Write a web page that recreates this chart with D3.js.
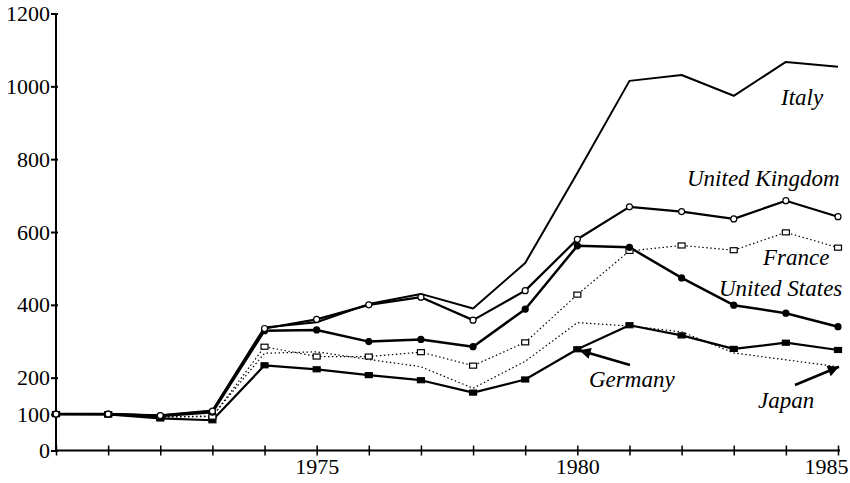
<!DOCTYPE html>
<html>
<head>
<meta charset="utf-8">
<script src="https://cdn.jsdelivr.net/npm/d3@7"></script>
<style>
  body { margin: 0; background: #fff; }
  text { font-family: "Liberation Serif", "Times New Roman", serif; fill: #000; }
</style>
</head>
<body>
<svg width="850" height="483"></svg>
<script>
// index values, 1970 = 100
const years = d3.range(1970, 1986)
const italy   = [100, 100, 97, 110, 338, 352, 402, 430, 390, 515, 762, 1015, 1031, 974, 1067, 1054]
const uk      = [100, 100, 96, 108, 335, 360, 400, 421, 358, 439, 580, 669, 656, 636, 686, 642]
const france  = [100, 99, 92, 93, 285, 258, 258, 270, 233, 297, 428, 548, 563, 550, 599, 557]
const usa     = [100, 100, 95, 105, 329, 331, 299, 305, 285, 388, 562, 558, 474, 399, 377, 340]
const germany = [100, 99, 88, 83, 234, 223, 207, 193, 159, 195, 278, 344, 316, 279, 296, 276]
const japan   = [100, 99, 92, 95, 267, 271, 250, 230, 171, 245, 351, 342, 326, 268, 249, 230]
const yTicks = [0, 100, 200, 400, 600, 800, 1000, 1200]
const xLabels = [1975, 1980, 1985]

var serif = '"Liberation Serif", "Times New Roman", serif'
var svg = d3.select('svg')

var x = d3.scaleLinear().domain([1970, 1985]).range([56, 838])
var y = d3.scaleLinear().domain([0, 1200]).range([450.5, 13.5])

// axes
var yAxis = d3.axisLeft(y).tickValues(yTicks).tickFormat(d3.format('d')).tickSize(5).tickPadding(1)
var gy = svg.append('g').attr('transform', 'translate(56,0)').call(yAxis).attr('font-family', null)
gy.select('.domain').attr('stroke', '#000').attr('stroke-width', 2).attr('d', 'M0,' + y(1200) + 'V' + y(0))
gy.selectAll('.tick line').attr('x1', 2).attr('stroke-width', 2)
gy.selectAll('.tick text').style('font-size', '22px').style('font-family', serif)

var xAxis = d3.axisBottom(x).tickValues(years)
    .tickFormat(d => xLabels.includes(d) ? d : '')
    .tickSize(5).tickPadding(3)
var gx = svg.append('g').attr('transform', 'translate(0,' + y(0) + ')').call(xAxis).attr('font-family', null)
gx.select('.domain').attr('stroke-width', 2).attr('d', 'M56,0H840')
gx.selectAll('.tick line').attr('y1', -5).attr('stroke-width', 1.5)
gx.selectAll('.tick text').style('font-size', '22px').style('font-family', serif)
// last label sits against the right edge, as in the print
gx.selectAll('.tick text').filter(d => d === 1985).attr('text-anchor', 'end').attr('x', 10)

var line = d3.line().x((d, i) => x(years[i])).y(d => y(d))

function drawSeries(data, width, dash) {
  svg.append('path')
    .datum(data)
    .attr('d', line)
    .attr('fill', 'none')
    .attr('stroke', '#000')
    .attr('stroke-width', width)
    .attr('stroke-linejoin', 'round')
    .attr('stroke-dasharray', dash)
}

drawSeries(japan, 1.2, '1.5,2.5')
drawSeries(france, 1.2, '1.5,2.5')
drawSeries(germany, 2.2, null)
drawSeries(usa, 2.5, null)
drawSeries(uk, 2.2, null)
drawSeries(italy, 2, null)

// markers
function circles(data, fill) {
  svg.append('g').selectAll('circle')
    .data(data)
    .enter()
    .append('circle')
    .attr('cx', (d, i) => x(years[i]))
    .attr('cy', d => y(d))
    .attr('r', 3)
    .attr('fill', fill)
    .attr('stroke', '#000')
    .attr('stroke-width', 1.2)
}
function squares(data, fill) {
  svg.append('g').selectAll('rect')
    .data(data)
    .enter()
    .append('rect')
    .attr('x', (d, i) => x(years[i]) - 3.5)
    .attr('y', d => y(d) - 2.5)
    .attr('width', 7)
    .attr('height', 5)
    .attr('fill', fill)
    .attr('stroke', '#000')
    .attr('stroke-width', 1.2)
}
squares(germany, '#000')
squares(france, '#fff')
circles(usa, '#000')
circles(uk, '#fff')

// series labels
var labels = [
  { t: 'Italy', x: 781, y: 105 },
  { t: 'United Kingdom', x: 687, y: 186 },
  { t: 'France', x: 763, y: 265 },
  { t: 'United States', x: 719, y: 296 },
  { t: 'Germany', x: 589, y: 387 },
  { t: 'Japan', x: 758, y: 408 }
]
svg.append('g').selectAll('text')
  .data(labels)
  .enter()
  .append('text')
  .attr('x', d => d.x)
  .attr('y', d => d.y)
  .style('font-family', serif)
  .style('font-size', '23px')
  .style('font-style', 'italic')
  .text(d => d.t)

// arrows
svg.append('defs').append('marker')
  .attr('id', 'head')
  .attr('viewBox', '0 0 10 10')
  .attr('refX', 10).attr('refY', 5)
  .attr('markerWidth', 6).attr('markerHeight', 4.5)
  .attr('orient', 'auto')
  .append('path').attr('d', 'M0,0L10,5L0,10Z').attr('fill', '#000')

var arrows = [
  [630, 365, x(1980) + 2, y(germany[10]) + 1],
  [795, 385, x(1985) + 1, y(japan[15])]
]
arrows.forEach(a => {
  svg.append('line')
    .attr('x1', a[0]).attr('y1', a[1])
    .attr('x2', a[2]).attr('y2', a[3])
    .attr('stroke', '#000')
    .attr('stroke-width', 2.5)
    .attr('marker-end', 'url(#head)')
})
</script>
</body>
</html>
